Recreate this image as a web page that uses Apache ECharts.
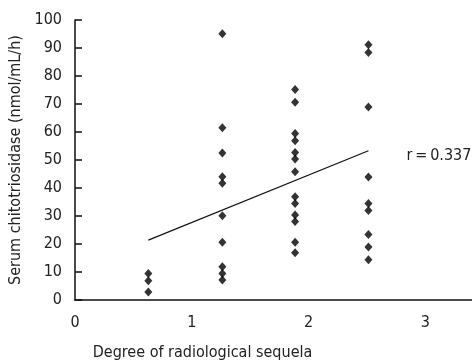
<!DOCTYPE html>
<html>
<head>
<meta charset="utf-8">
<script src="https://cdn.jsdelivr.net/npm/echarts@6/dist/echarts.min.js"></script>
<style>
html,body{margin:0;padding:0;background:#fff;}
#chart{width:472px;height:364px;}
</style>
</head>
<body>
<div id="chart"></div>
<script>
// Degree of radiological sequela (x position of each group of points)
var groupX = [0.628, 1.262, 1.885, 2.513];
// Serum chitotriosidase values per group (nmol/mL/h)
var group1 = [9.5, 6.9, 2.9];
var group2 = [95.1, 61.5, 52.5, 44.0, 41.7, 30.1, 20.6, 11.9, 9.5, 7.1];
var group3 = [75.2, 70.6, 59.5, 56.9, 52.7, 50.4, 45.8, 36.9, 34.5, 30.4, 28.0, 20.6, 16.9];
var group4 = [91.2, 88.4, 68.9, 43.9, 34.5, 32.0, 23.4, 18.9, 14.4];
var groups = [group1, group2, group3, group4];
// Regression line endpoints
var lineX = [0.628, 2.513];
var lineY = [21.4, 53.3];
var rLabel = 'r\u2009=\u20090.337';
// Tick labels
var xTicks = [0, 1, 2, 3];
var yTicks = [0, 10, 20, 30, 40, 50, 60, 70, 80, 90, 100];

var FONT = '"Liberation Sans Narrow", "DejaVu Sans Condensed", "Liberation Sans", sans-serif';
var TXT = '#222';

var scatterData = [];
groups.forEach(function (g, i) {
  g.forEach(function (v) { scatterData.push([groupX[i], v]); });
});
var lineData = lineX.map(function (x, i) { return [x, lineY[i]]; });

var chart = echarts.init(document.getElementById('chart'), null, {renderer: 'canvas'});
chart.setOption({
  animation: false,
  backgroundColor: '#fff',
  grid: {left: 75, right: 0, top: 20, bottom: 64, containLabel: false, outerBoundsMode: 'none'},
  xAxis: {
    type: 'value', min: 0, max: 3.4, interval: 1,
    name: 'Degree of radiological sequela',
    nameLocation: 'middle', nameGap: 45,
    nameTextStyle: {fontFamily: FONT, fontSize: 16, color: TXT, padding: [0, 142, 0, 0]},
    axisLine: {show: true, lineStyle: {color: '#111', width: 1.5}},
    axisTick: {show: false},
    splitLine: {show: false},
    axisLabel: {
      fontFamily: FONT, fontSize: 16, color: TXT, margin: 15,
      showMaxLabel: false,
      formatter: function (v) { return xTicks.indexOf(v) >= 0 ? String(v) : ''; }
    }
  },
  yAxis: {
    type: 'value', min: 0, max: 100, interval: 10,
    name: 'Serum chitotriosidase (nmol/mL/h)',
    nameLocation: 'middle', nameGap: 47, nameRotate: 90,
    nameTextStyle: {fontFamily: FONT, fontSize: 16, color: TXT},
    axisLine: {show: true, lineStyle: {color: '#111', width: 1.5}},
    axisTick: {show: true, inside: true, length: 7, lineStyle: {color: '#111', width: 1.5}},
    splitLine: {show: false},
    axisLabel: {
      fontFamily: FONT, fontSize: 16, color: TXT, margin: 13,
      formatter: function (v) { return yTicks.indexOf(v) >= 0 ? String(v) : ''; }
    }
  },
  series: [
    {
      type: 'line', data: lineData, symbol: 'none', showSymbol: false,
      lineStyle: {color: '#111', width: 1.2}, z: 2, silent: true,
      endLabel: {
        show: true, distance: 38, offset: [0, 5],
        formatter: rLabel, fontFamily: FONT, fontSize: 16, color: TXT
      }
    },
    {
      type: 'scatter', data: scatterData, symbol: 'diamond', symbolSize: [8, 9],
      itemStyle: {color: '#000'}, z: 3
    }
  ]
});
</script>
</body>
</html>
